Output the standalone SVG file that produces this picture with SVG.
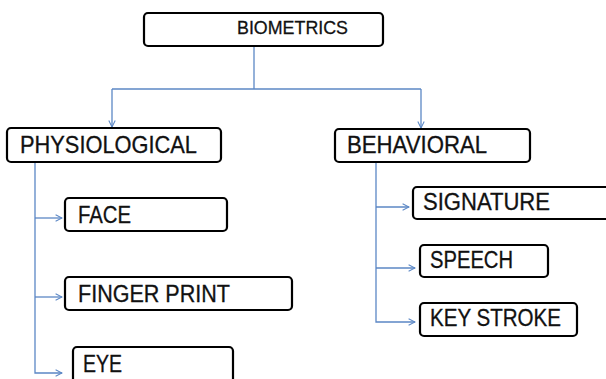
<svg xmlns="http://www.w3.org/2000/svg" width="606" height="379" viewBox="0 0 606 379">
<style>
.box{fill:#fff;stroke:#000;stroke-width:2.2}
.t{font-family:"Liberation Sans",Arial,sans-serif;fill:#111;stroke:#111;stroke-width:0.3}
.c{fill:none;stroke:#5b87c5;stroke-width:1.3}
</style>
<defs>
<marker id="ah" viewBox="0 0 10 10" refX="9" refY="5" markerWidth="8" markerHeight="8" markerUnits="userSpaceOnUse" orient="auto">
<path d="M1,1 L9,5 L1,9" fill="none" stroke="#5b87c5" stroke-width="1.3"/>
</marker>
</defs>
<g id="connectors">
<path class="c" d="M254,46 V89"/>
<path class="c" d="M112,89 H421"/>
<path class="c" d="M112,89 V127" marker-end="url(#ah)"/>
<path class="c" d="M421,89 V128" marker-end="url(#ah)"/>
<path class="c" d="M35,162 V373 H62" marker-end="url(#ah)"/>
<path class="c" d="M35,218 H62" marker-end="url(#ah)"/>
<path class="c" d="M35,297 H62" marker-end="url(#ah)"/>
<path class="c" d="M376,162 V322 H415" marker-end="url(#ah)"/>
<path class="c" d="M376,207 H409" marker-end="url(#ah)"/>
<path class="c" d="M376,268 H415" marker-end="url(#ah)"/>
</g>
<g id="biometrics"><rect class="box" x="144" y="13" width="239" height="33" rx="4"/><text class="t" x="237" y="34" font-size="19" textLength="111" lengthAdjust="spacingAndGlyphs">BIOMETRICS</text></g>
<g id="physiological"><rect class="box" x="7" y="128" width="214" height="34" rx="4"/><text class="t" x="20" y="153" font-size="24" textLength="177" lengthAdjust="spacingAndGlyphs">PHYSIOLOGICAL</text></g>
<g id="behavioral"><rect class="box" x="335" y="129" width="195" height="33" rx="4"/><text class="t" x="347" y="153" font-size="24" textLength="140" lengthAdjust="spacingAndGlyphs">BEHAVIORAL</text></g>
<g id="face"><rect class="box" x="65" y="198" width="162" height="33" rx="4"/><text class="t" x="78" y="223" font-size="23" textLength="53" lengthAdjust="spacingAndGlyphs">FACE</text></g>
<g id="fingerprint"><rect class="box" x="65" y="277" width="227" height="33" rx="4"/><text class="t" x="78" y="302" font-size="23" textLength="152" lengthAdjust="spacingAndGlyphs">FINGER PRINT</text></g>
<g id="eye"><rect class="box" x="73" y="347" width="160" height="40" rx="4"/><text class="t" x="83" y="372" font-size="23" textLength="39" lengthAdjust="spacingAndGlyphs">EYE</text></g>
<g id="signature"><rect class="box" x="413" y="187" width="200" height="32" rx="4"/><text class="t" x="423" y="210" font-size="23" textLength="127" lengthAdjust="spacingAndGlyphs">SIGNATURE</text></g>
<g id="speech"><rect class="box" x="420" y="245" width="128" height="32" rx="4"/><text class="t" x="430" y="268" font-size="23" textLength="83" lengthAdjust="spacingAndGlyphs">SPEECH</text></g>
<g id="keystroke"><rect class="box" x="420" y="303" width="157" height="33" rx="4"/><text class="t" x="430" y="326" font-size="23" textLength="131" lengthAdjust="spacingAndGlyphs">KEY STROKE</text></g>
</svg>
